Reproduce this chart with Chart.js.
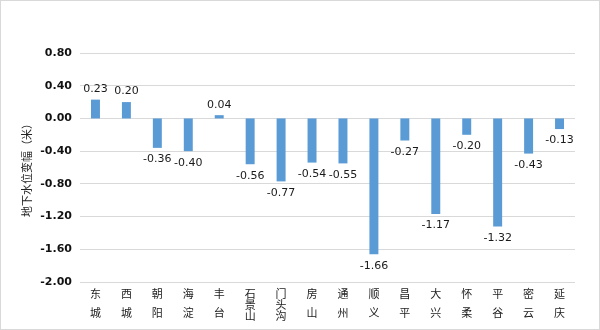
<!DOCTYPE html>
<html>
<head>
<meta charset="utf-8">
<script src="https://cdn.jsdelivr.net/npm/chart.js@4"></script>
<style>
    html, body { margin: 0; padding: 0; background: #fff; }
    #wrap { width: 598px; height: 328px; border: 1px solid #d9d9d9; }
</style>
</head>
<body>
<div id="wrap"><canvas id="chart" width="598" height="328"></canvas></div>
<script>
const districts = [
    ['东', '城'], ['西', '城'], ['朝', '阳'], ['海', '淀'], ['丰', '台'],
    ['石', '景', '山'], ['门', '头', '沟'], ['房', '山'], ['通', '州'], ['顺', '义'],
    ['昌', '平'], ['大', '兴'], ['怀', '柔'], ['平', '谷'], ['密', '云'], ['延', '庆']
];
const changes = [0.23, 0.20, -0.36, -0.40, 0.04, -0.56, -0.77, -0.54, -0.55, -1.66,
    -0.27, -1.17, -0.20, -1.32, -0.43, -0.13];
const yMin = -2.0;
const yMax = 0.8;
const yStep = 0.4;

const FONT = '"DejaVu Sans", "Noto Sans CJK SC", sans-serif';

// two-character names get an empty middle line so both kinds start at the same height
const tickLabels = districts.map(d => d.length === 2 ? [d[0], '', d[1]] : d);
const isLong = districts.map(d => d.length === 3);

// value labels above / below each bar
const valueLabels = {
    id: 'valueLabels',
    afterDatasetsDraw(chart) {
        const c = chart.ctx;
        const meta = chart.getDatasetMeta(0);
        c.save();
        c.font = '11px ' + FONT;
        c.fillStyle = '#1a1a1a';
        c.textAlign = 'center';
        meta.data.forEach((bar, i) => {
            const v = changes[i];
            if (v >= 0) {
                c.textBaseline = 'bottom';
                c.fillText(v.toFixed(2), bar.x, bar.y - 5);
            } else {
                c.textBaseline = 'top';
                c.fillText(v.toFixed(2), bar.x, bar.y + 6);
            }
        });
        c.restore();
    }
};

const ctx = document.getElementById("chart").getContext("2d");
const chart = new Chart(ctx, {
    type: 'bar',
    data: {
        labels: tickLabels,
        datasets: [{
            data: changes,
            backgroundColor: '#5b9bd5',
            barPercentage: 0.58,
            categoryPercentage: 0.5
        }]
    },
    options: {
        responsive: false,
        animation: false,
        layout: { padding: { left: 21, right: 24, top: 52, bottom: 0 } },
        plugins: {
            legend: { display: false },
            tooltip: { enabled: false }
        },
        scales: {
            x: {
                grid: { display: false, drawTicks: false },
                border: { display: false },
                ticks: {
                    padding: 8,
                    maxRotation: 0,
                    autoSkip: false,
                    color: '#222',
                    font: (c) => ({
                        family: FONT,
                        size: 11,
                        lineHeight: isLong[c.index] ? '11px' : '9.5px'
                    })
                },
                afterFit(scale) { scale.height = 47; }
            },
            y: {
                min: yMin,
                max: yMax,
                grid: { color: '#d9d9d9', drawTicks: false },
                border: { display: false },
                ticks: {
                    stepSize: yStep,
                    padding: 8,
                    color: '#111',
                    font: { family: FONT, size: 11, weight: 'bold' },
                    callback: (v) => (Math.abs(v) < 1e-9 ? 0 : Number(v)).toFixed(2)
                },
                title: {
                    display: true,
                    text: '地下水位变幅（米）',
                    color: '#222',
                    font: { family: FONT, size: 11 },
                    padding: { top: 0, bottom: 6 }
                },
                afterFit(scale) { scale.width = 58; }
            }
        }
    },
    plugins: [valueLabels]
});
</script>
</body>
</html>
